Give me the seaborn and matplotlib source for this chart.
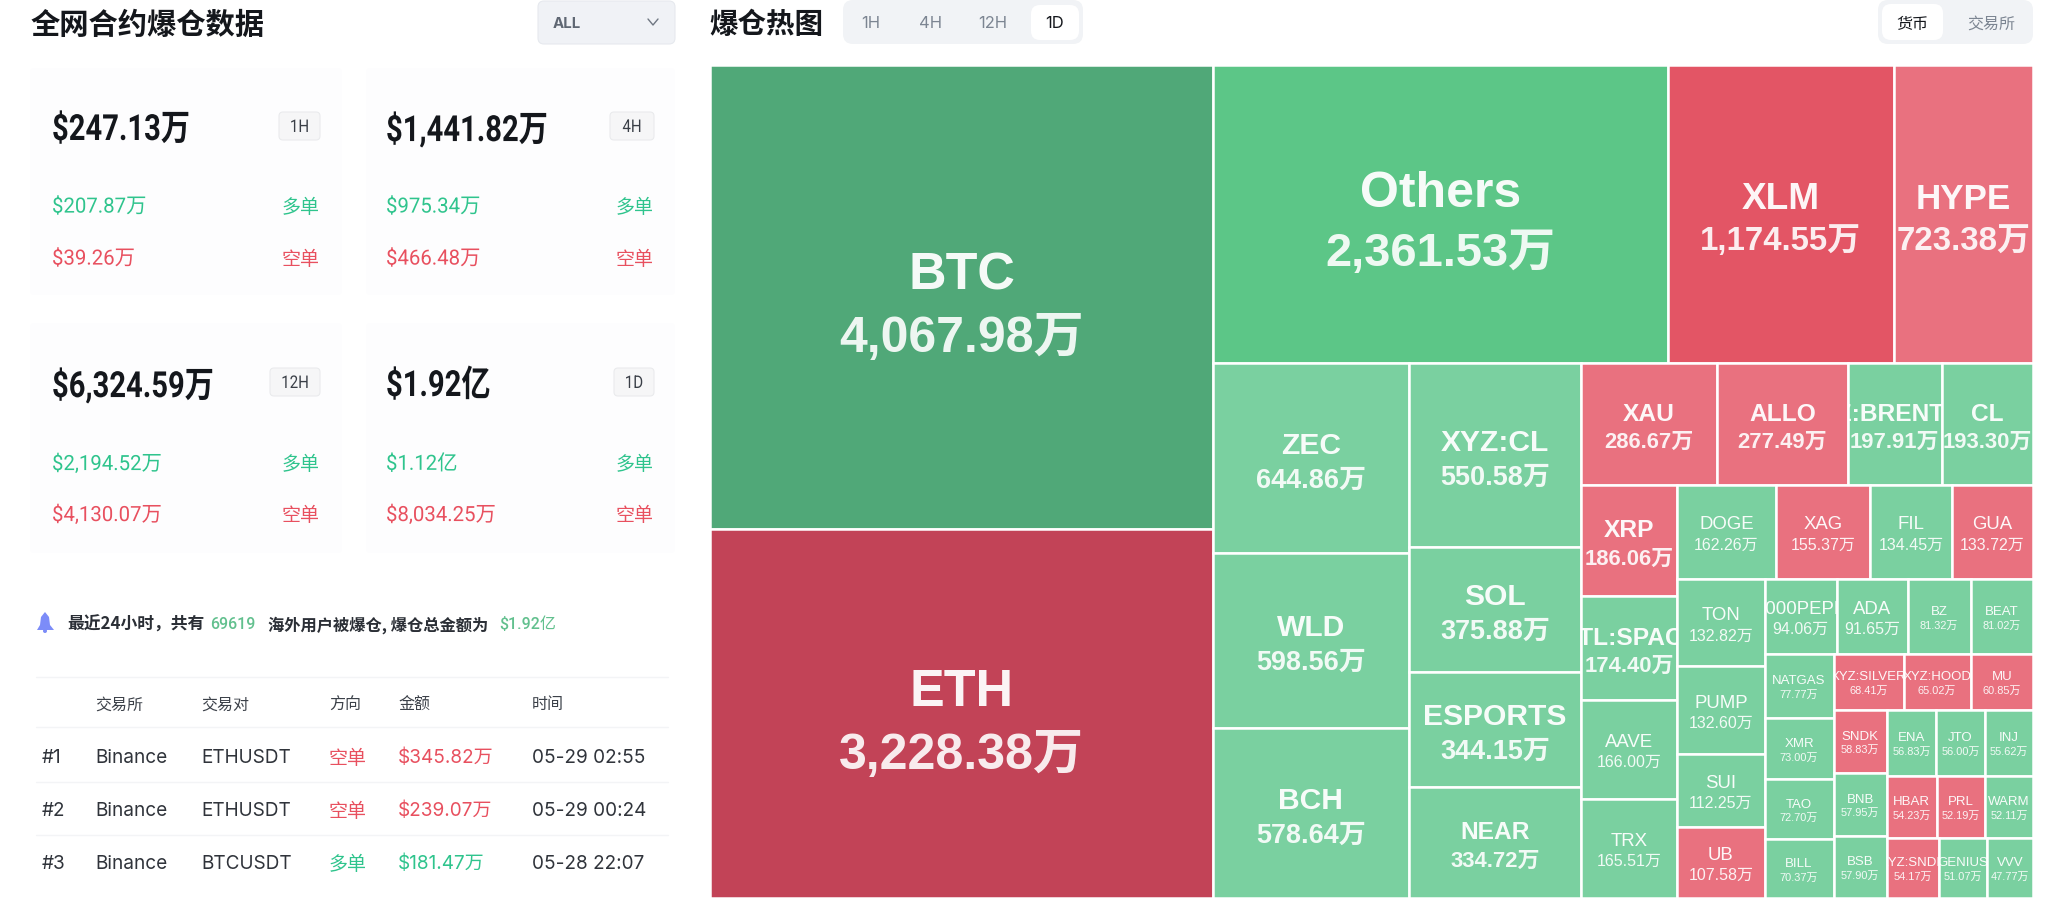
import matplotlib
matplotlib.use('Agg')
import matplotlib.pyplot as plt
import matplotlib.patheffects as pe
from matplotlib.transforms import Affine2D
import seaborn as sns
from matplotlib.patches import FancyBboxPatch, Rectangle, Polygon, Circle

# treemap values (万)
coins = ['BTC', 'ETH', 'Others', 'XLM', 'HYPE', 'ZEC', 'WLD', 'BCH', 'XYZ:CL', 'SOL', 'ESPORTS', 'NEAR',
         'XAU', 'ALLO', 'XYZ:BRENTOIL', 'CL', 'XRP', 'CNTL:SPACEX', 'AAVE', 'TRX', 'DOGE', 'XAG', 'FIL', 'GUA',
         'TON', 'PUMP', 'SUI', 'UB', '1000PEPE', 'ADA', 'BZ', 'BEAT', 'NATGAS', 'XMR', 'TAO', 'BILL',
         'XYZ:SILVER', 'XYZ:HOOD', 'MU', 'SNDK', 'BNB', 'BSB', 'ENA', 'JTO', 'INJ', 'HBAR', 'PRL', 'WARM',
         'XYZ:SNDK', 'GENIUS', 'VVV']
amounts = [4067.98, 3228.38, 2361.53, 1174.55, 723.38, 644.86, 598.56, 578.64, 550.58, 375.88, 344.15, 334.72,
           286.67, 277.49, 197.91, 193.30, 186.06, 174.40, 166.00, 165.51, 162.26, 155.37, 134.45, 133.72,
           132.82, 132.60, 112.25, 107.58, 94.06, 91.65, 81.32, 81.02, 77.77, 73.00, 72.70, 70.37,
           68.41, 65.02, 60.85, 58.83, 57.95, 57.90, 56.83, 56.00, 55.62, 54.23, 52.19, 52.11,
           54.17, 51.07, 47.77]
short_coins = ['ETH', 'XLM', 'HYPE', 'XAU', 'ALLO', 'XRP', 'XAG', 'GUA', 'UB', 'XYZ:SILVER', 'XYZ:HOOD', 'MU',
               'SNDK', 'HBAR', 'PRL', 'XYZ:SNDK']

# cards
card_periods = ['1H', '4H', '12H', '1D']
card_totals = ['$247.13万', '$1,441.82万', '$6,324.59万', '$1.92亿']
card_longs = ['$207.87万', '$975.34万', '$2,194.52万', '$1.12亿']
card_shorts = ['$39.26万', '$466.48万', '$4,130.07万', '$8,034.25万']

# table
table_header = ['交易所', '交易对', '方向', '金额', '时间']
table_rank = ['#1', '#2', '#3']
table_exchange = ['Binance', 'Binance', 'Binance']
table_pair = ['ETHUSDT', 'ETHUSDT', 'BTCUSDT']
table_side = ['空单', '空单', '多单']
table_amount = ['$345.82万', '$239.07万', '$181.47万']
table_time = ['05-29 02:55', '05-29 00:24', '05-28 22:07']

sns.set_theme(style='white')
CJK = 'Noto Sans CJK SC'
DIN = ['Roboto', CJK]
SANS = ['Inter', CJK]
TREE_FONT = ['Liberation Sans', CJK]
plt.rcParams['font.family'] = ['Liberation Sans', CJK]

GREEN = '#2FC48D'
RED = '#E8505F'
INK = '#14171C'
GREY = '#7C8592'
greens = sns.blend_palette(['#7AD0A0', '#5CC687', '#50A878'], 3)
reds = sns.blend_palette(['#E9717F', '#E35565', '#C24357'], 3)

fig = plt.figure(figsize=(20.48, 9.11), dpi=100, facecolor='white')
ax = fig.add_axes([0, 0, 1, 1])
ax.set_xlim(0, 2048)
ax.set_ylim(911, 0)
ax.axis('off')


class Squeeze(pe.AbstractPathEffect):
    # narrows glyphs around one x, there is no condensed DIN-like font here
    def __init__(self, x0, sx):
        super().__init__()
        self.x0 = x0
        self.sx = sx

    def draw_path(self, renderer, gc, tpath, affine, rgbFace=None):
        squeezed = affine + Affine2D().translate(-self.x0, 0).scale(self.sx, 1).translate(self.x0, 0)
        renderer.draw_path(gc, tpath, squeezed, rgbFace)


def px(size):
    return size * 0.72


def label(x, y, s, size, color=INK, ha='left', weight='normal', family=SANS, squeeze=None, z=3):
    t = ax.text(x, y, s, fontsize=px(size), color=color, ha=ha, va='center_baseline',
                fontweight=weight, family=family, zorder=z)
    if squeeze:
        t.set_path_effects([Squeeze(x, squeeze)])
    return t


def box(x0, y0, x1, y1, color, radius=6, edge='none', z=1):
    ax.add_patch(FancyBboxPatch((x0, y0), x1 - x0, y1 - y0, boxstyle=f'round,pad=0,rounding_size={radius}',
                                facecolor=color, edgecolor=edge, linewidth=0.8, zorder=z))


# ---- left panel
label(31, 22, '全网合约爆仓数据', 29.3, weight='bold', family=[CJK])
box(538, 1, 675, 44, '#F0F2F6', edge='#E6E9EE')
label(553, 22, 'ALL', 15, color='#5F6773', weight='bold')
ax.plot([648, 653, 658], [19, 25, 19], color='#6F7782', lw=1)

card_x = [(30, 342), (366, 675), (30, 342), (366, 675)]
card_y = [(68, 295), (68, 295), (323, 553), (323, 553)]
text_x = [52, 386, 52, 386]
row_offset = [(126, 205, 257), (126, 205, 257), (382, 462, 513), (382, 462, 513)]
badge_x = [(279, 320), (610, 654), (270, 320), (614, 654)]
for i, period in enumerate(card_periods):
    x0, x1 = card_x[i]
    y0, y1 = card_y[i]
    box(x0, y0, x1, y1, '#FDFDFE', radius=4)
    y_total, y_long, y_short = row_offset[i]
    label(text_x[i], y_total, card_totals[i], 36, weight='bold', family=DIN, squeeze=0.81)
    label(text_x[i], y_long, card_longs[i], 21, color=GREEN, family=DIN, squeeze=0.97)
    label(text_x[i], y_short, card_shorts[i], 21, color=RED, family=DIN, squeeze=0.97)
    bx0, bx1 = badge_x[i]
    box(bx0, y_total - 14, bx1, y_total + 14, '#F6F6F7', radius=4, edge='#EAEBED', z=2)
    label((bx0 + bx1) / 2, y_total, period, 17.5, color='#3A3F47', ha='center', family=DIN, squeeze=0.86)
    label(bx1, y_long, '多单', 19, color=GREEN, ha='right', family=[CJK])
    label(bx1, y_short, '空单', 19, color=RED, ha='right', family=[CJK])

# bell
ax.add_patch(Polygon([(37, 630), (40, 625), (41, 617), (45, 612), (49, 617), (50, 625), (54, 630)],
                     closed=True, facecolor='#7C8CF8', edgecolor='none'))
ax.add_patch(Circle((45, 631), 2, facecolor='#7C8CF8', edgecolor='none'))

label(67, 623, '最近24小时，共有', 16.8, color='#2B2F36', weight='bold', family=[CJK])
label(210, 623, '69619', 16, color='#62C08E', weight='medium', family=DIN)
label(268, 623, '海外用户被爆仓, 爆仓总金额为', 16.3, color='#2B2F36', weight='bold', family=[CJK])
label(499, 623, '$1.92亿', 16, color='#62C08E', weight='medium', family=DIN)

# table
col_x = [95, 201, 329, 398, 532]
for y in [677, 727, 782, 835]:
    ax.plot([36, 668], [y, y], color='#F3F4F6', lw=1)
for x, head in zip(col_x, table_header):
    label(x, 703, head, 16, color='#3C4149', family=[CJK])
row_y = [756, 809, 862]
for i, y in enumerate(row_y):
    side_color = RED if table_side[i] == '空单' else GREEN
    label(42, y, table_rank[i], 19, color='#30343B')
    label(col_x[0], y, table_exchange[i], 19, color='#30343B')
    label(col_x[1], y, table_pair[i], 19, color='#30343B')
    label(col_x[2], y, table_side[i], 19, color=side_color, family=[CJK])
    label(col_x[3], y, table_amount[i], 19, color=side_color)
    label(col_x[4], y, table_time[i], 19, color='#30343B')

# ---- treemap header
label(709, 22, '爆仓热图', 28.5, weight='bold', family=[CJK])
box(843, 0, 1083, 44, '#F1F3F6', radius=10)
box(1031, 5, 1079, 40, 'white', radius=9, z=2)
for x, s, c in [(871, '1H', GREY), (930, '4H', GREY), (993, '12H', GREY), (1055, '1D', INK)]:
    label(x, 22, s, 16.5, color=c, ha='center')
box(1878, 0, 2033, 44, '#F1F3F6', radius=10)
box(1882, 4, 1943, 40, 'white', radius=9, z=2)
label(1912, 22, '货币', 16, color=INK, ha='center', weight='medium', family=[CJK])
label(1991, 22, '交易所', 16, color=GREY, ha='center', family=[CJK])


# ---- treemap: nested slice and dice, sizes follow the amounts
value_of = dict(zip(coins, amounts))


def hz(*kids):
    return ('h', kids)


def vt(*kids):
    return ('v', kids)


block = vt(hz('ENA', 'JTO', 'INJ'), hz('HBAR', 'PRL', 'WARM'), hz('XYZ:SNDK', 'GENIUS', 'VVV'))
block = hz(vt('SNDK', 'BNB', 'BSB'), block)
block = vt(hz('XYZ:SILVER', 'XYZ:HOOD', 'MU'), block)
block = hz(vt('NATGAS', 'XMR', 'TAO', 'BILL'), block)
block = vt(hz('1000PEPE', 'ADA', 'BZ', 'BEAT'), block)
block = hz(vt('TON', 'PUMP', 'SUI', 'UB'), block)
block = vt(hz('DOGE', 'XAG', 'FIL', 'GUA'), block)
block = hz(vt('XRP', 'CNTL:SPACEX', 'AAVE', 'TRX'), block)
block = vt(hz('XAU', 'ALLO', 'XYZ:BRENTOIL', 'CL'), block)
block = hz(vt('ZEC', 'WLD', 'BCH'), vt('XYZ:CL', 'SOL', 'ESPORTS', 'NEAR'), block)
block = vt(hz('Others', 'XLM', 'HYPE'), block)
tree = hz(vt('BTC', 'ETH'), block)


def weight_of(node):
    if isinstance(node, str):
        return value_of[node]
    return sum(weight_of(k) for k in node[1])


def tile(node, x, y, w, h, out):
    if isinstance(node, str):
        out.append((node, x, y, w, h))
        return
    total = weight_of(node)
    for kid in node[1]:
        share = weight_of(kid) / total
        if node[0] == 'h':
            tile(kid, x, y, w * share, h, out)
            x += w * share
        else:
            tile(kid, x, y, w, h * share, out)
            y += h * share


# value floor, name px, value px, bold
font_tiers = [(3000, 52, 50, True), (2000, 50, 47, True), (1000, 37, 33, True), (700, 35, 33, True),
              (340, 30, 27, True), (170, 24.5, 22, True), (90, 18.7, 16, False), (0, 13.3, 11, False)]


def tier_color(name, value):
    pal = reds if name in short_coins else greens
    if value >= 3000:
        return pal[2]
    return pal[1] if value >= 1000 else pal[0]


tiles = []
tile(tree, 710, 65, 1323, 833, tiles)
for name, x, y, w, h in tiles:
    value = value_of[name]
    rect = Rectangle((x, y), w, h, facecolor=tier_color(name, value), edgecolor='white', linewidth=1.8, zorder=4)
    ax.add_patch(rect)
    for floor, name_px, val_px, bold in font_tiers:
        if value >= floor:
            break
    cx, cy = x + w / 2, y + h / 2
    base = cy + 1.1 * val_px
    fw = 'bold' if bold else 'normal'
    t1 = ax.text(cx, base - 1.25 * val_px, name, fontsize=px(name_px), fontweight=fw, color='#FFFFFF', alpha=0.95,
                 ha='center', va='baseline', family=TREE_FONT, zorder=5, clip_on=True)
    t2 = ax.text(cx, base, f'{value:,.2f}万', fontsize=px(val_px), fontweight=fw, color='#FFFFFF', alpha=0.9,
                 ha='center', va='baseline', family=TREE_FONT, zorder=5, clip_on=True)
    t1.set_clip_path(rect)
    t2.set_clip_path(rect)

fig.savefig('out.png', dpi=100, facecolor='white')
